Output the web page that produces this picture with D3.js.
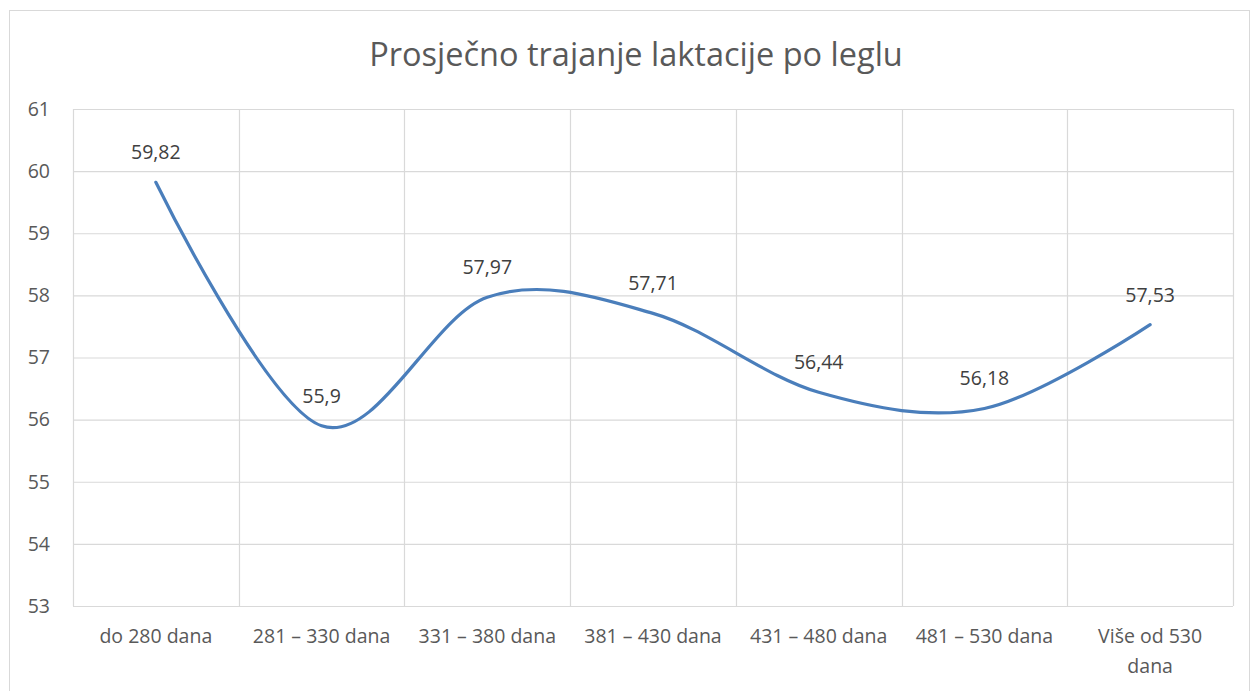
<!DOCTYPE html>
<html>
<head>
<meta charset="utf-8">
<script src="https://cdn.jsdelivr.net/npm/d3@7"></script>
<style>
  body { margin: 0; background: #fff; }
  text { font-family: "Open Sans", "Noto Sans", sans-serif; fill: #595959; }
</style>
</head>
<body>
<svg width="1253" height="691"></svg>
<script>
// data
const categories = ["do 280 dana", "281 \u2013 330 dana", "331 \u2013 380 dana", "381 \u2013 430 dana",
                    "431 \u2013 480 dana", "481 \u2013 530 dana", "Više od 530 dana"];
const values = [59.82, 55.9, 57.97, 57.71, 56.44, 56.18, 57.53];
const labels = ["59,82", "55,9", "57,97", "57,71", "56,44", "56,18", "57,53"];
const yTicks = [53, 54, 55, 56, 57, 58, 59, 60, 61];
const title = "Prosječno trajanje laktacije po leglu";

const svg = d3.select("svg");
const plotL = 73, plotR = 1233, plotT = 109, plotB = 606;

// outer chart border
svg.append("rect")
  .attr("x", 9.5).attr("y", 10.5).attr("width", 1240).attr("height", 700)
  .attr("fill", "none").attr("stroke", "#d9d9d9");

svg.append("text")
  .attr("x", 636).attr("y", 66)
  .attr("text-anchor", "middle")
  .style("font-size", "32.5px")
  .text(title);

const x = d3.scaleBand().domain(categories).range([plotL, plotR]);
const y = d3.scaleLinear().domain([53, 61]).range([plotB, plotT]);

// horizontal gridlines
svg.append("g").selectAll("line").data(yTicks).enter().append("line")
  .attr("x1", plotL).attr("x2", plotR)
  .attr("y1", d => y(d) + 0.5).attr("y2", d => y(d) + 0.5)
  .attr("stroke", "#d9d9d9").attr("stroke-width", 1.2);

// vertical gridlines at category boundaries
const bounds = categories.map(c => x(c)).concat([plotR]);
svg.append("g").selectAll("line").data(bounds).enter().append("line")
  .attr("x1", d => Math.round(d) + 0.5).attr("x2", d => Math.round(d) + 0.5)
  .attr("y1", plotT).attr("y2", plotB)
  .attr("stroke", "#d9d9d9").attr("stroke-width", 1.2);

// y axis labels
svg.append("g").selectAll("text").data(yTicks).enter().append("text")
  .attr("x", 50).attr("y", d => y(d))
  .attr("dy", "0.35em")
  .attr("text-anchor", "end")
  .style("font-size", "19.5px")
  .text(d => d);

// x axis labels (wrap the last one)
const xl = svg.append("g").selectAll("text").data(categories).enter().append("text")
  .attr("x", d => x(d) + x.bandwidth() / 2)
  .attr("y", 643)
  .attr("text-anchor", "middle")
  .style("font-size", "19.5px");
xl.each(function(d) {
  const t = d3.select(this);
  if (d.length > 15) {
    const parts = ["Više od 530", "dana"];
    parts.forEach((p, i) => t.append("tspan")
      .attr("x", x(d) + x.bandwidth() / 2).attr("dy", i ? 30 : 0).text(p));
  } else t.text(d);
});

// smoothed line
const pts = categories.map((c, i) => [x(c) + x.bandwidth() / 2, y(values[i])]);
svg.append("path")
  .attr("d", d3.line().curve(d3.curveCardinal.tension(0))(pts))
  .attr("fill", "none")
  .attr("stroke", "#4a7ebb")
  .attr("stroke-width", 3.2)
  .attr("stroke-linecap", "round");

// data labels
svg.append("g").selectAll("text").data(pts).enter().append("text")
  .attr("x", d => d[0]).attr("y", d => d[1] - 23)
  .attr("text-anchor", "middle")
  .style("font-size", "19.5px")
  .style("fill", "#404040")
  .text((d, i) => labels[i]);
</script>
</body>
</html>
